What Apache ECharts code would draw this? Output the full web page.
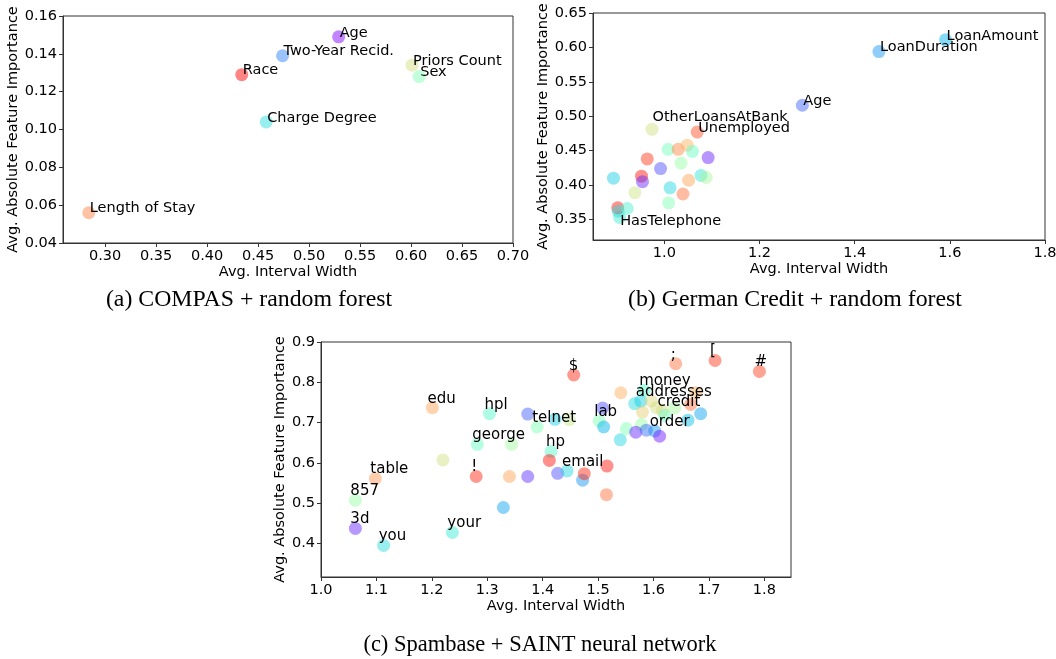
<!DOCTYPE html>
<html>
<head>
<meta charset="utf-8">
<script src="https://cdn.jsdelivr.net/npm/echarts@6/dist/echarts.min.js"></script>
<style>
  html, body { margin: 0; padding: 0; background: #fff; }
  #chart { width: 1056px; height: 659px; }
</style>
</head>
<body>
<div id="chart"></div>
<script>
// (a) COMPAS + random forest
const compasNames = ['Age', 'Two-Year Recid.', 'Charge Degree', 'Sex', 'Priors Count', 'Length of Stay', 'Race'];
const compasWidth = [0.529, 0.474, 0.458, 0.608, 0.601, 0.284, 0.434];
const compasImportance = [0.149, 0.139, 0.104, 0.128, 0.134, 0.056, 0.129];
const compasColor = [0, 1 / 6, 2 / 6, 3 / 6, 4 / 6, 5 / 6, 1];

// (b) German Credit + random forest
const germanNames = ['LoanAmount', 'LoanDuration', 'Age', 'OtherLoansAtBank', 'Unemployed', 'HasTelephone',
  '', '', '', '', '', '', '', '', '', '', '', '', '', '', '', '', '', '', '', '', ''];
const germanWidth = [1.591, 1.451, 1.290, 0.974, 1.069, 0.906,
  0.893, 0.902, 0.903, 0.922, 0.938, 0.952, 0.954, 0.964, 0.992, 1.008, 1.012,
  1.009, 1.029, 1.035, 1.048, 1.051, 1.039, 1.059, 1.077, 1.088, 1.092];
const germanImportance = [0.611, 0.594, 0.516, 0.481, 0.477, 0.353,
  0.410, 0.367, 0.362, 0.366, 0.389, 0.413, 0.405, 0.438, 0.424, 0.452, 0.396,
  0.374, 0.452, 0.432, 0.458, 0.407, 0.387, 0.449, 0.414, 0.411, 0.440];
const germanColor = [0.25, 0.20, 0.13, 0.66, 0.90, 0.38,
  0.30, 0.97, 0.33, 0.40, 0.65, 0.97, 0.05, 0.93, 0.10, 0.47, 0.32,
  0.50, 0.82, 0.55, 0.75, 0.78, 0.85, 0.45, 0.35, 0.58, 0.04];

// (c) Spambase + SAINT neural network
const spamNames = ['3d', 'you', '857', 'table', 'edu', 'hpl', 'george', '', 'your', '!',
  '', '', '', '', '', 'telnet', '', '', 'hp', '',
  '$', '', 'email', '', '', '', '', 'lab', '', '',
  '', '', '', '', 'money', 'addresses', '', '', '', 'credit',
  '', '', '', '', '', '', '', '', '', 'order',
  '', ';', '[', '#'];
const spamWidth = [1.062, 1.113, 1.062, 1.098, 1.201, 1.304, 1.282, 1.220, 1.237, 1.280,
  1.340, 1.373, 1.329, 1.373, 1.344, 1.390, 1.422, 1.448, 1.415, 1.412,
  1.456, 1.427, 1.444, 1.472, 1.475, 1.516, 1.515, 1.502, 1.508, 1.510,
  1.540, 1.551, 1.541, 1.566, 1.583, 1.577, 1.596, 1.605, 1.580, 1.616,
  1.620, 1.638, 1.667, 1.676, 1.662, 1.685, 1.578, 1.568, 1.587, 1.602,
  1.611, 1.640, 1.711, 1.791];
const spamImportance = [0.437, 0.395, 0.507, 0.561, 0.737, 0.722, 0.646, 0.607, 0.427, 0.566,
  0.566, 0.566, 0.489, 0.721, 0.646, 0.689, 0.708, 0.707, 0.628, 0.606,
  0.818, 0.574, 0.580, 0.557, 0.573, 0.592, 0.521, 0.704, 0.736, 0.689,
  0.657, 0.685, 0.774, 0.747, 0.780, 0.753, 0.753, 0.737, 0.726, 0.729,
  0.718, 0.736, 0.745, 0.774, 0.706, 0.722, 0.695, 0.676, 0.681, 0.679,
  0.666, 0.846, 0.854, 0.827];
const spamColor = [0.05, 0.33, 0.55, 0.80, 0.78, 0.42, 0.45, 0.66, 0.37, 0.95,
  0.78, 0.06, 0.22, 0.12, 0.57, 0.50, 0.30, 0.64, 0.42, 0.97,
  0.95, 0.10, 0.32, 0.20, 0.95, 0.97, 0.85, 0.50, 0.10, 0.25,
  0.32, 0.50, 0.76, 0.33, 0.42, 0.30, 0.68, 0.66, 0.70, 0.68,
  0.45, 0.58, 0.85, 0.76, 0.27, 0.22, 0.55, 0.05, 0.14, 0.20,
  0.03, 0.85, 0.93, 0.92];

const captions = ['(a) COMPAS + random forest', '(b) German Credit + random forest', '(c) Spambase + SAINT neural network'];
const xTicksA = [0.30, 0.35, 0.40, 0.45, 0.50, 0.55, 0.60, 0.65, 0.70];
const yTicksA = [0.04, 0.06, 0.08, 0.10, 0.12, 0.14, 0.16];
const xTicksB = [1.0, 1.2, 1.4, 1.6, 1.8];
const yTicksB = [0.35, 0.40, 0.45, 0.50, 0.55, 0.60, 0.65];
const xTicksC = [1.0, 1.1, 1.2, 1.3, 1.4, 1.5, 1.6, 1.7, 1.8];
const yTicksC = [0.4, 0.5, 0.6, 0.7, 0.8, 0.9];

// matplotlib 'rainbow' colormap, drawn with alpha 0.6
const rainbow = (t, a) => {
  const r = Math.min(1, Math.abs(2 * t - 0.5));
  const g = Math.sin(Math.PI * t);
  const b = Math.cos(Math.PI * t / 2);
  return 'rgba(' + [r, g, b].map(v => Math.round(Math.max(0, v) * 255)).join(',') + ',' + a + ')';
};

const FONT = 'DejaVu Sans';
const AXIS_COLOR = '#333';
const TEXT_SIZE = 14.5;

// hand nudges for labels that were moved in the original (b)
const labelNudge = { OtherLoansAtBank: [7, -6], HasTelephone: [7, 10] };

const buildData = (xs, ys, cs, names, pos) => xs.map((x, i) => {
  const item = { value: [x, ys[i], cs[i]], name: names[i] };
  item.label = { position: labelNudge[names[i]] || pos };
  return item;
});

const makeAxes = (idx, min, max, ticks, digits, gap, isY) => ({
  gridIndex: idx,
  type: 'value',
  min: min,
  max: max,
  name: isY ? 'Avg. Absolute Feature Importance' : 'Avg. Interval Width',
  nameLocation: 'middle',
  nameGap: gap,
  nameTextStyle: { fontFamily: FONT, fontSize: TEXT_SIZE, color: '#000' },
  splitLine: { show: false },
  axisLine: { show: true, onZero: false, lineStyle: { color: AXIS_COLOR, width: 1 } },
  axisTick: { show: true, inside: false, length: 4, customValues: ticks, lineStyle: { color: AXIS_COLOR } },
  axisLabel: {
    customValues: ticks,
    margin: 6,
    fontFamily: FONT,
    fontSize: TEXT_SIZE,
    color: '#000',
    formatter: v => Number(v).toFixed(digits)
  }
});

const makeSeries = (idx, data, fontSize) => ({
  type: 'scatter',
  xAxisIndex: idx,
  yAxisIndex: idx,
  symbolSize: 13,
  data: data,
  itemStyle: { color: p => rainbow(p.value[2], 0.6) },
  label: {
    show: true,
    formatter: p => p.name,
    align: 'left',
    verticalAlign: 'middle',
    fontFamily: FONT,
    fontSize: fontSize,
    color: '#000',
    opacity: 1
  },
  emphasis: { disabled: true },
  animation: false
});

const chart = echarts.init(document.getElementById('chart'));

const option = {
  backgroundColor: '#fff',
  animation: false,
  grid: [
    { left: 63, top: 16, width: 450, height: 227 },
    { left: 593, top: 13, width: 452, height: 227 },
    { left: 321, top: 342, width: 470, height: 235 }
  ].map(g => Object.assign(g, { show: true, borderColor: AXIS_COLOR, borderWidth: 1, containLabel: false, outerBoundsMode: 'none' })),
  xAxis: [
    makeAxes(0, 0.2587, 0.70, xTicksA, 2, 21, false),
    makeAxes(1, 0.850, 1.80, xTicksB, 1, 21, false),
    makeAxes(2, 1.0, 1.848, xTicksC, 1, 17, false)
  ],
  yAxis: [
    makeAxes(0, 0.04, 0.16, yTicksA, 2, 42, true),
    makeAxes(1, 0.3202, 0.65, yTicksB, 2, 42, true),
    makeAxes(2, 0.3165, 0.90, yTicksC, 1, 32, true)
  ],
  series: [
    makeSeries(0, buildData(compasWidth, compasImportance, compasColor, compasNames, [7.5, 2.5]), TEXT_SIZE),
    makeSeries(1, buildData(germanWidth, germanImportance, germanColor, germanNames, [7.5, 2.5]), TEXT_SIZE),
    makeSeries(2, buildData(spamWidth, spamImportance, spamColor, spamNames, [1.5, -2.5]), 15)
  ],
  graphic: [
    [249, 300, 23.8], [795, 300, 23.8], [540, 645, 22.5]
  ].map((p, i) => ({
    type: 'text',
    x: p[0],
    y: p[1],
    style: {
      text: captions[i],
      fontFamily: 'Liberation Serif',
      fontSize: p[2],
      fill: '#000',
      align: 'center',
      verticalAlign: 'middle'
    }
  }))
};

chart.setOption(option);
window.onresize = () => {
  chart.resize();
};
</script>
</body>
</html>
